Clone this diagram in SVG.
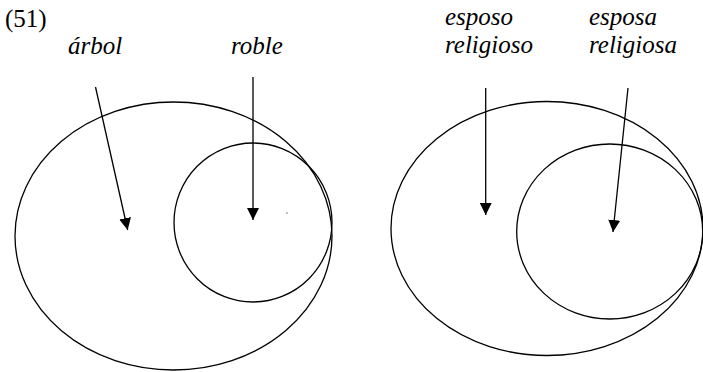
<svg xmlns="http://www.w3.org/2000/svg" width="703" height="372" viewBox="0 0 703 372">
<style>
.s{fill:none;stroke:#000;stroke-width:1.3}
.a{stroke:#000;stroke-width:1.3}
.t{font-family:'Liberation Serif','Times New Roman',Times,serif;font-size:25px;fill:#000}
.i{font-style:italic}
</style>
<defs>
<marker id="ah" markerWidth="12" markerHeight="12" refX="10" refY="5" orient="auto" markerUnits="userSpaceOnUse" viewBox="0 0 10 10">
<path d="M0,0 L10,5 L0,10 Z" fill="#000"/>
</marker>
</defs>
<rect width="703" height="372" fill="#fff"/>
<text class="t" x="5" y="27">(51)</text>
<g id="left-big"><ellipse class="s" cx="173.5" cy="236" rx="158.5" ry="134"/></g>
<g id="left-small"><ellipse class="s" cx="253" cy="222.5" rx="79" ry="79.5"/></g>
<g id="arbol"><text class="t i" x="68" y="54">árbol</text></g>
<g id="roble"><text class="t i" x="231" y="54">roble</text></g>
<g id="right-big"><ellipse class="s" cx="547" cy="228.5" rx="156" ry="127"/></g>
<g id="right-small"><ellipse class="s" cx="609.7" cy="231.5" rx="93" ry="87.5"/></g>
<g id="esposo"><text class="t i" x="445" y="25">esposo</text><text class="t i" x="445" y="53">religioso</text></g>
<g id="esposa"><text class="t i" x="589" y="25">esposa</text><text class="t i" x="589" y="53">religiosa</text></g>
<circle cx="287" cy="213" r="0.7" fill="#555"/>
<g id="connectors">
<line class="a" x1="95.5" y1="87" x2="127.7" y2="230" marker-end="url(#ah)"/>
<line class="a" x1="253" y1="77" x2="253" y2="220" marker-end="url(#ah)"/>
<line class="a" x1="485.7" y1="88" x2="485.7" y2="215" marker-end="url(#ah)"/>
<line class="a" x1="628" y1="88" x2="613" y2="232" marker-end="url(#ah)"/>
</g>
</svg>
